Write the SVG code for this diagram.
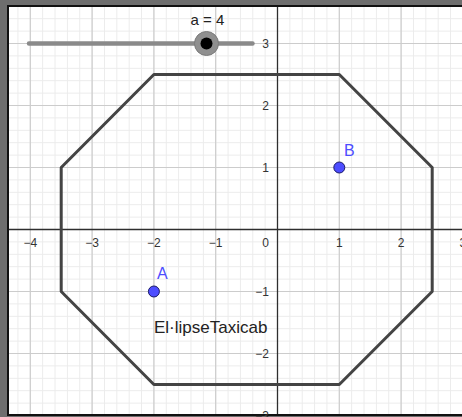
<svg xmlns="http://www.w3.org/2000/svg" width="462" height="417" viewBox="0 0 462 417">
<style>
.lbl{font-family:"Liberation Sans",Arial,sans-serif;font-size:12px;fill:#333}
.pt{fill:#4d4dff;stroke:#1a1a66;stroke-width:1}
.ptl{font-family:"Liberation Sans",Arial,sans-serif;font-size:16px;fill:#4d4dff}
</style>
<defs>
<pattern id="minor" x="271.32" y="223.3" width="12.36" height="12.4" patternUnits="userSpaceOnUse">
<path d="M6.18 0V12.4M0 6.2H12.36" stroke="#ebebeb" stroke-width="1" fill="none"/>
</pattern>
<clipPath id="plot"><rect x="9" y="7" width="453" height="407"/></clipPath>
</defs>
<rect width="462" height="417" fill="#6e6e6e"/>
<rect x="9" y="7" width="453" height="407" fill="#fff"/>
<g id="grid" clip-path="url(#plot)">
<rect x="9" y="7" width="453" height="407" fill="url(#minor)"/>
<path d="M30.3 7V414M92.1 7V414M153.9 7V414M215.7 7V414M339.3 7V414M401.1 7V414M9 43.5H462M9 105.5H462M9 167.5H462M9 291.5H462M9 353.5H462M9 415.5H462" stroke="#cccccc" stroke-width="1.2" fill="none"/>
<path d="M9 229.5H462M277.5 7V414" stroke="#2e2e2e" stroke-width="1.3" fill="none"/>
</g>
<path d="M8 6V415.5M7 6H462M7 415H462" stroke="#111" stroke-width="2" fill="none"/>
<g id="axis-labels" class="lbl">
<text x="30.3" y="247" text-anchor="middle">−4</text>
<text x="92.1" y="247" text-anchor="middle">−3</text>
<text x="153.9" y="247" text-anchor="middle">−2</text>
<text x="215.7" y="247" text-anchor="middle">−1</text>
<text x="269" y="247" text-anchor="end">0</text>
<text x="339.3" y="247" text-anchor="middle">1</text>
<text x="401.1" y="247" text-anchor="middle">2</text>
<text x="462.9" y="247" text-anchor="middle">3</text>
<text x="269" y="48" text-anchor="end">3</text>
<text x="269" y="110" text-anchor="end">2</text>
<text x="269" y="172" text-anchor="end">1</text>
<text x="269" y="296" text-anchor="end">−1</text>
<text x="269" y="358" text-anchor="end">−2</text>
<text x="269" y="420" text-anchor="end">−3</text>
</g>
<g id="ellipse">
<polygon points="153.9,74.5 339.3,74.5 432.2,167.5 432.2,291.5 339.3,384.5 153.9,384.5 61.2,291.5 61.2,167.5" fill="none" stroke="#444" stroke-width="3" stroke-linejoin="round"/>
<text x="154" y="333" font-family="'Liberation Sans',Arial,sans-serif" font-size="17" fill="#222">El·lipseTaxicab</text>
</g>
<g id="slider">
<line x1="29" y1="43.5" x2="252.5" y2="43.5" stroke="#8a8a8a" stroke-width="4.5" stroke-linecap="round"/>
<circle cx="206.5" cy="43.5" r="12" fill="#8f8f8f" stroke="#7a7a7a" stroke-width="1"/>
<circle cx="206.5" cy="43.5" r="6" fill="#000"/>
<text x="207.5" y="25" text-anchor="middle" font-family="'Liberation Sans',Arial,sans-serif" font-size="15" fill="#222">a = 4</text>
</g>
<g id="A">
<circle class="pt" cx="153.9" cy="291.5" r="5.5"/>
<text class="ptl" x="157" y="279">A</text>
</g>
<g id="B">
<circle class="pt" cx="339.3" cy="167.5" r="5.5"/>
<text class="ptl" x="344" y="156">B</text>
</g>
</svg>
